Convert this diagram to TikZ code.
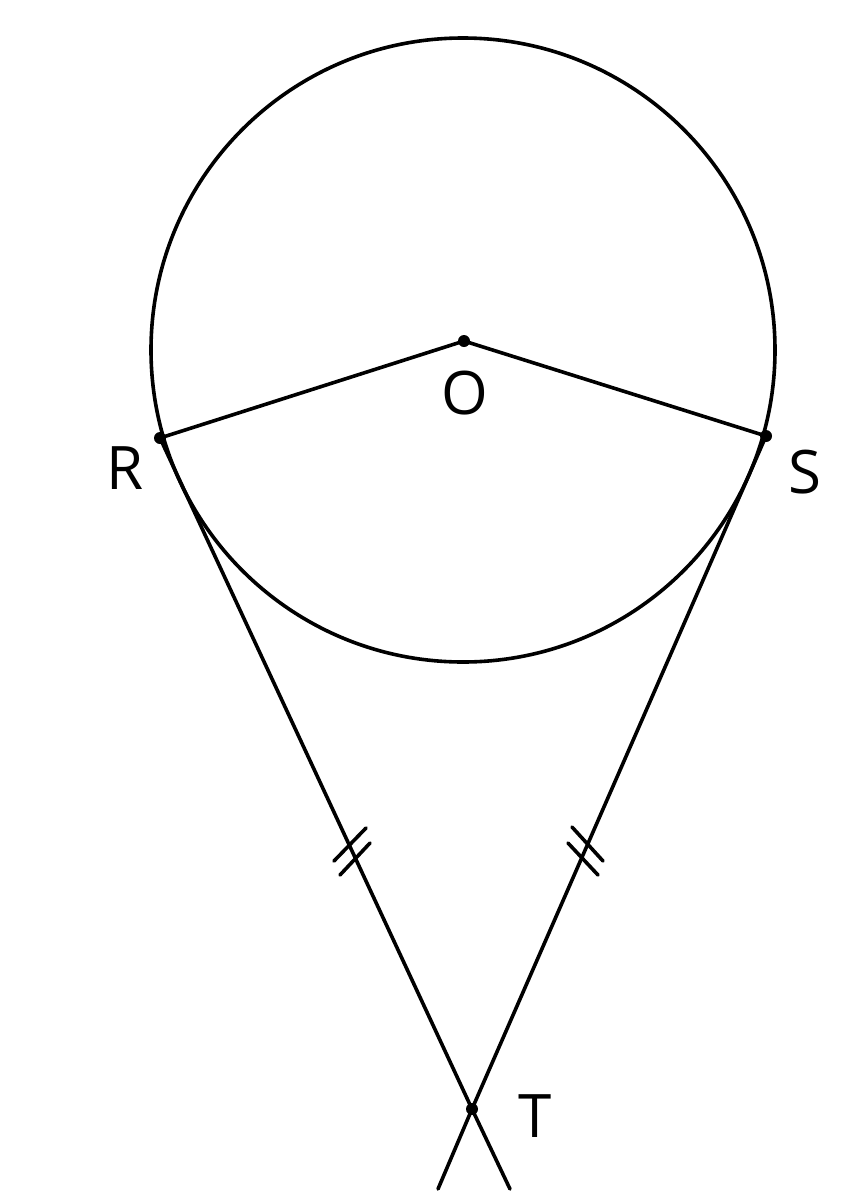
\documentclass[tikz,border=0pt]{standalone}
\usepackage{fontspec}
\setmainfont{Open Sans}
\begin{document}
\begin{tikzpicture}[x=1pt,y=-1pt, line width=3.6pt, line cap=round, line join=round,
  dot/.style={circle,fill=black,inner sep=0pt,minimum size=12pt},
  lbl/.style={font=\fontsize{60}{60}\selectfont, inner sep=0pt}]
\useasboundingbox (0,0) rectangle (866,1200);
\coordinate (C) at (463,350);
\draw (C) circle[radius=312];
\node[dot] (O) at (464,341) {};
\node[dot] (R) at (160,438) {};
\node[dot] (S) at (766,436) {};
\node[dot] (T) at (472,1109) {};
\coordinate (Tl) at (438,1189);
\coordinate (Tr) at (510,1189);
\draw (R.center) -- (O.center) -- (S.center);
\draw (R.center) -- (T.center) -- (Tr);
\draw (S.center) -- (T.center) -- (Tl);
% equal-length tick marks
\draw (334,861) -- (366,828);
\draw (340,875) -- (370,843);
\draw (572,827) -- (603,861);
\draw (568,843) -- (598,875);
% labels
\node[lbl] (lO) at (465,393) {O};
\node[lbl] (lR) at (125,468) {R};
\node[lbl] (lS) at (805,472) {S};
\node[lbl] (lT) at (535,1116) {T};
\end{tikzpicture}
\end{document}
